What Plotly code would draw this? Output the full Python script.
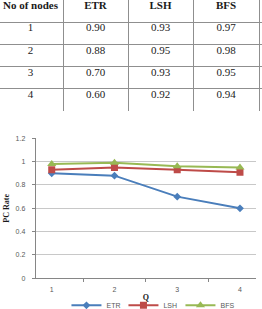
import plotly.graph_objects as go

# ---- Table data ----
header = ["No of nodes", "ETR", "LSH", "BFS"]
nodes = ["1", "2", "3", "4"]
t_etr = ["0.90", "0.88", "0.70", "0.60"]
t_lsh = ["0.93", "0.95", "0.93", "0.92"]
t_bfs = ["0.97", "0.98", "0.95", "0.94"]

# ---- Chart data ----
q = ["1", "2", "3", "4"]
etr = [0.90, 0.88, 0.70, 0.60]
lsh = [0.93, 0.95, 0.93, 0.91]
bfs = [0.98, 0.99, 0.96, 0.95]
yticks = [0, 0.2, 0.4, 0.6, 0.8, 1, 1.2]

W, H = 262, 309

# table geometry (style): column widths in px, first column starts slightly off-page
COL_LEFT = -2
COL_W = [65, 65, 65, 66]
TABLE_BOTTOM_PX = 111
TEXT_Y = 0.3  # text position inside each row (fraction from row top)

col_edges = [COL_LEFT]
for w in COL_W:
    col_edges.append(col_edges[-1] + w)
col_centers = [(a + b) / 2 for a, b in zip(col_edges[:-1], col_edges[1:])]

columns = [[header[0]] + nodes, [header[1]] + t_etr, [header[2]] + t_lsh, [header[3]] + t_bfs]
n_rows = len(columns[0])

fig = go.Figure()

# table text, one trace per column, placed on table axes (x2/y2)
for ci, col in enumerate(columns):
    texts = [f"<b>{v}</b>" if ri == 0 else v for ri, v in enumerate(col)]
    fig.add_trace(go.Scatter(
        x=[col_centers[ci]] * n_rows,
        y=[ri + TEXT_Y for ri in range(n_rows)],
        text=texts, mode="text", textposition="middle center",
        textfont=dict(family="Liberation Serif", size=11, color="#1a1a1a"),
        xaxis="x2", yaxis="y2", showlegend=False, hoverinfo="skip",
    ))

# chart
fig.add_trace(go.Scatter(x=q, y=etr, name="ETR", mode="lines+markers",
                         line=dict(color="#4A7EBB", width=2),
                         marker=dict(symbol="diamond", size=6, color="#4A7EBB")))
fig.add_trace(go.Scatter(x=q, y=lsh, name="LSH", mode="lines+markers",
                         line=dict(color="#BE4B48", width=2),
                         marker=dict(symbol="square", size=7, color="#BE4B48")))
fig.add_trace(go.Scatter(x=q, y=bfs, name="BFS", mode="lines+markers",
                         line=dict(color="#98B954", width=2),
                         marker=dict(symbol="triangle-up", size=8, color="#98B954")))

fig.update_layout(
    width=W, height=H,
    margin=dict(l=0, r=0, t=0, b=0, autoexpand=False),
    paper_bgcolor="white", plot_bgcolor="white",
    showlegend=True,
    legend=dict(orientation="h", x=0.58, xanchor="center", y=-0.035, yanchor="bottom",
                font=dict(family="Liberation Sans", size=7, color="#595959"),
                itemwidth=30, entrywidth=12, entrywidthmode="pixels",
                tracegroupgap=0, bgcolor="rgba(0,0,0,0)"),
    # table axes
    xaxis2=dict(domain=[0, 1], range=[0, W], anchor="y2",
                tickvals=col_edges[1:], showticklabels=False, ticks="",
                showgrid=True, gridcolor="#8f8f8f", gridwidth=1,
                zeroline=False, showline=False, fixedrange=True),
    yaxis2=dict(domain=[1 - TABLE_BOTTOM_PX / H, 1], range=[n_rows + 0.03, 0], anchor="x2",
                tickvals=list(range(1, n_rows + 1)), showticklabels=False, ticks="",
                showgrid=True, gridcolor="#8f8f8f", gridwidth=1,
                zeroline=False, showline=False, fixedrange=True),
    # chart axes
    xaxis=dict(domain=[35.7 / W, 256 / W], type="category", anchor="y",
               tickson="boundaries", ticks="outside", ticklen=3, tickcolor="#868686",
               showline=True, linecolor="#868686", linewidth=1,
               showgrid=False, ticklabelstandoff=4, automargin=False,
               tickfont=dict(family="Liberation Sans", size=7, color="#595959"),
               title=dict(text="<b>Q</b>", standoff=2,
                          font=dict(family="Liberation Serif", size=8, color="#1a1a1a"))),
    yaxis=dict(domain=[1 - 278.3 / H, 1 - 138.3 / H], range=[0, 1.2], anchor="x",
               tickvals=yticks, ticktext=[f"{v:g}" for v in yticks],
               ticks="outside", ticklen=3, tickcolor="#868686",
               showline=True, linecolor="#868686", linewidth=1,
               showgrid=True, gridcolor="#c8c8c8", gridwidth=1,
               zeroline=False, ticklabelstandoff=5, automargin=False,
               tickfont=dict(family="Liberation Sans", size=7, color="#595959"),
               title=dict(text="<b>PC Rate</b>", standoff=4,
                          font=dict(family="Liberation Serif", size=8, color="#1a1a1a"))),
)

fig.write_html("out.html")
